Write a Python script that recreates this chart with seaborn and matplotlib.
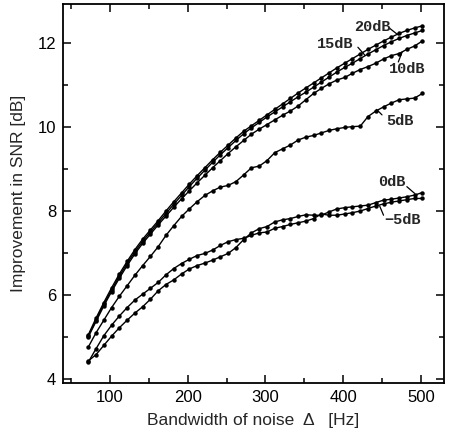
import numpy as np
import pandas as pd
import matplotlib
matplotlib.use("Agg")
import matplotlib.pyplot as plt
import seaborn as sns
from matplotlib.ticker import MultipleLocator

# ---- data ----
BANDWIDTH = [72, 82, 92, 102, 112, 122, 132, 142, 152, 162, 172, 182, 192, 202, 212,
             222, 232, 242, 252, 262, 272, 282, 292, 302, 312, 322, 332, 342, 352, 362,
             372, 382, 392, 402, 412, 422, 432, 442, 452, 462, 472, 482, 492, 502]

SNR_20 = [5.05, 5.45, 5.82, 6.17, 6.50, 6.80, 7.08, 7.33, 7.55, 7.77, 8.00, 8.22, 8.43, 8.64, 8.84,
          9.03, 9.22, 9.40, 9.57, 9.74, 9.90, 10.03, 10.16, 10.29, 10.42, 10.55, 10.68, 10.81, 10.93, 11.05,
          11.17, 11.29, 11.41, 11.52, 11.63, 11.74, 11.85, 11.95, 12.05, 12.14, 12.23, 12.30, 12.36, 12.41]
SNR_15 = [5.03, 5.40, 5.78, 6.12, 6.45, 6.75, 7.03, 7.28, 7.50, 7.72, 7.94, 8.16, 8.37, 8.58, 8.78,
          8.97, 9.16, 9.34, 9.51, 9.68, 9.84, 9.98, 10.11, 10.24, 10.36, 10.48, 10.60, 10.72, 10.83, 10.95,
          11.07, 11.19, 11.31, 11.42, 11.52, 11.63, 11.74, 11.84, 11.94, 12.03, 12.11, 12.18, 12.24, 12.30]
SNR_10 = [5.00, 5.37, 5.74, 6.08, 6.40, 6.70, 6.98, 7.23, 7.45, 7.67, 7.88, 8.09, 8.29, 8.48, 8.67,
          8.85, 9.03, 9.20, 9.37, 9.53, 9.68, 9.83, 9.95, 10.06, 10.17, 10.28, 10.38, 10.50, 10.65, 10.80,
          10.92, 11.03, 11.12, 11.18, 11.28, 11.37, 11.44, 11.52, 11.62, 11.70, 11.75, 11.85, 11.93, 12.05]
SNR_5 = [4.76, 5.10, 5.40, 5.70, 5.97, 6.22, 6.47, 6.70, 6.92, 7.15, 7.42, 7.65, 7.87, 8.05, 8.22,
         8.37, 8.48, 8.57, 8.61, 8.70, 8.86, 9.03, 9.07, 9.20, 9.39, 9.48, 9.57, 9.69, 9.76, 9.80,
         9.86, 9.92, 9.96, 9.99, 10.01, 10.02, 10.25, 10.38, 10.48, 10.57, 10.65, 10.67, 10.69, 10.80]
SNR_0 = [4.43, 4.58, 4.80, 5.02, 5.22, 5.40, 5.57, 5.72, 5.90, 6.10, 6.25, 6.36, 6.50, 6.62, 6.70,
         6.76, 6.83, 6.91, 6.99, 7.13, 7.32, 7.48, 7.58, 7.63, 7.74, 7.79, 7.82, 7.87, 7.91, 7.90,
         7.90, 7.98, 8.05, 8.08, 8.10, 8.12, 8.14, 8.20, 8.26, 8.28, 8.31, 8.34, 8.38, 8.44]
SNR_M5 = [4.40, 4.72, 5.03, 5.28, 5.50, 5.70, 5.88, 6.02, 6.16, 6.30, 6.48, 6.63, 6.75, 6.85, 6.94,
          6.99, 7.07, 7.18, 7.27, 7.32, 7.35, 7.42, 7.48, 7.50, 7.59, 7.63, 7.68, 7.72, 7.76, 7.82,
          7.93, 7.90, 7.90, 7.93, 7.96, 8.00, 8.06, 8.12, 8.17, 8.21, 8.24, 8.27, 8.30, 8.30]

SERIES_NAMES = ["20dB", "15dB", "10dB", "5dB", "0dB", "\u22125dB"]
SERIES_VALUES = [SNR_20, SNR_15, SNR_10, SNR_5, SNR_0, SNR_M5]

X_TICKS = [100, 200, 300, 400, 500]
Y_TICKS = [4, 6, 8, 10, 12]

# ---- build long-form table ----
rows = []
for name, vals in zip(SERIES_NAMES, SERIES_VALUES):
    for x, y in zip(BANDWIDTH, vals):
        rows.append({"bw": x, "imp": y, "snr": name})
df = pd.DataFrame(rows)

sns.set_style("ticks")
plt.rcParams["font.family"] = ["Liberation Sans", "DejaVu Sans"]

fig = plt.figure(figsize=(4.5, 4.36), dpi=100)
ax = fig.add_axes([0.14, 0.1216, 0.847, 0.8692])

sns.lineplot(data=df, x="bw", y="imp", hue="snr", hue_order=SERIES_NAMES,
             palette=["black"] * len(SERIES_NAMES), marker="o", markersize=3.2,
             markeredgewidth=0, linewidth=1.0, legend=False, ax=ax, sort=True)

ax.set_xlim(39.5, 530)
ax.set_ylim(3.905, 12.93)
ax.set_xticks(X_TICKS)
ax.set_yticks(Y_TICKS)
ax.xaxis.set_minor_locator(MultipleLocator(50))
ax.yaxis.set_minor_locator(MultipleLocator(1))
ax.tick_params(which="both", direction="in", top=True, right=True, colors="black",
               labelsize=12, width=1.1)
ax.tick_params(which="major", length=6, pad=5)
ax.tick_params(which="minor", length=3.5)
for s in ax.spines.values():
    s.set_linewidth(1.3)
    s.set_color("black")

ax.set_xlabel("Bandwidth of noise  \u0394   [Hz]", fontsize=12.5, labelpad=6)
ax.set_ylabel("Improvement in SNR [dB]", fontsize=12.5, labelpad=8)

# ---- curve labels with leader lines ----
lab_font = dict(family=["Liberation Mono", "DejaVu Sans Mono"], fontsize=11, fontweight="bold")
labels = [
    ("20dB", (437, 12.38), (460, 12.35), (471, 12.19)),
    ("15dB", (390, 11.98), (419, 11.90), (428, 11.71)),
    ("10dB", (482, 11.38), (471, 11.55), (476, 11.79)),
    ("5dB", (473, 10.14), (450, 10.29), (443, 10.42)),
    ("0dB", (463, 8.69), (482, 8.58), (492, 8.42)),
    ("\u22125dB", (476, 7.79), (452, 7.90), (447, 8.12)),
]
for txt, tpos, p0, p1 in labels:
    ax.text(tpos[0], tpos[1], txt, ha="center", va="center", **lab_font)
    ax.plot([p0[0], p1[0]], [p0[1], p1[1]], color="black", linewidth=0.9)

fig.savefig("out.png", dpi=100)
